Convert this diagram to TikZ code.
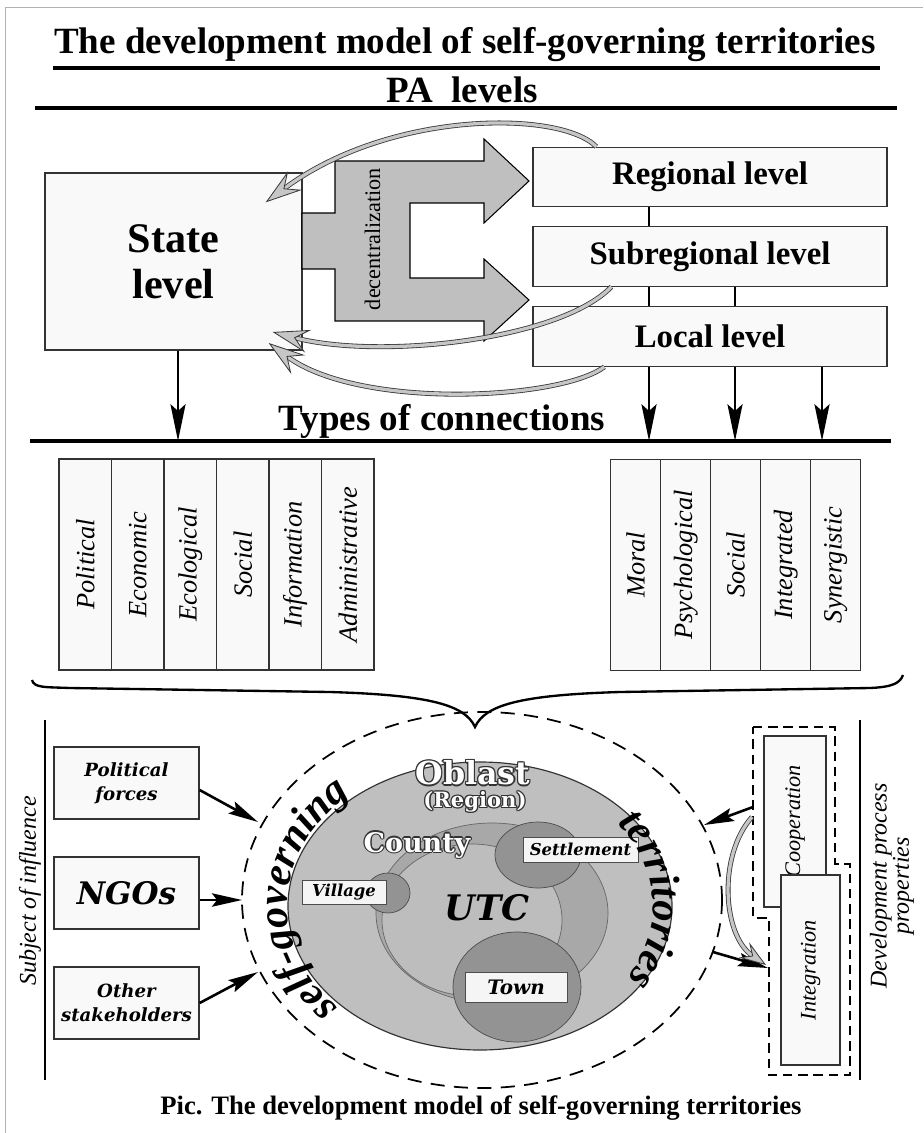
\documentclass[tikz,border=0pt]{standalone}
\usepackage{fontspec}
\setmainfont{Liberation Serif}
\newfontfamily\dejavu{DejaVu Serif}
\usetikzlibrary{arrows.meta, positioning, calc, decorations.text}

\newcommand\titlefont{\fontsize{31.6pt}{36pt}\selectfont\bfseries}
\newcommand\lvlfont{\fontsize{28pt}{32pt}\selectfont\bfseries}
\newcommand\statefont{\fontsize{36pt}{39pt}\selectfont\bfseries}
\newcommand\decfont{\fontsize{19pt}{22pt}\selectfont}
\newcommand\colfont{\fontsize{22.5pt}{26pt}\selectfont\itshape}
\newcommand\sidefont{\fontsize{20.5pt}{17.5pt}\selectfont\itshape}
\newcommand\propfont{\fontsize{19pt}{22pt}\selectfont\itshape}
\newcommand\inflfont{\dejavu\fontsize{15.5pt}{20.5pt}\selectfont\bfseries\itshape}
\newcommand\ngofont{\dejavu\fontsize{26.5pt}{30pt}\selectfont\bfseries\itshape}
\newcommand\tagfont{\dejavu\fontsize{14pt}{16pt}\selectfont\bfseries\itshape}
\newcommand\townfont{\dejavu\fontsize{17pt}{20pt}\selectfont\bfseries\itshape}
\newcommand\utcfont{\dejavu\fontsize{30pt}{34pt}\selectfont\bfseries\itshape}
\newcommand\oblfont{\dejavu\fontsize{27pt}{30pt}\selectfont\bfseries}
\newcommand\regfont{\dejavu\fontsize{18pt}{20pt}\selectfont\bfseries}
\newcommand\cntfont{\dejavu\fontsize{23pt}{26pt}\selectfont\bfseries}
\newcommand\arcfont{\fontsize{36pt}{38pt}\selectfont\bfseries\itshape}
\newcommand\capfont{\fontsize{22.7pt}{26pt}\selectfont\bfseries}

% white lettering with a dark rim
\newcommand\halotext[4]{%
  \foreach \hx/\hy in {1/0,-1/0,0/1,0/-1,.7/.7,-.7/.7,.7/-.7,-.7/-.7}
    \node[font=#2, text=black!80, xshift=1.1*\hx pt, yshift=1.1*\hy pt] at #1 {#4};
  \node[font=#2, text=white] (#3) at #1 {#4};}

\begin{document}
\begin{tikzpicture}[x=0.03cm, y=-0.03cm,
    box/.style={draw=black!80, line width=1.1pt, fill=gray!5, inner sep=0pt},
    lvl/.style={box, minimum width=10.62cm, minimum height=1.78cm, font=\lvlfont},
    col/.style={box, rotate=90, minimum width=6.33cm, font=\colfont},
    rule/.style={line width=3pt},
    link/.style={line width=2.4pt},
    down/.style={line width=2.4pt, -{Stealth[length=1.1cm, width=0.45cm, inset=0.2cm]}},
    back/.style={draw=gray!45!black, line width=0.7pt, double=gray!45, double distance=2.8pt,
                 -{Stealth[length=1.1cm, width=0.7cm, inset=0.4cm, fill=gray!45]}},
    infl/.style={line width=2.2pt, -{Stealth[length=0.9cm, width=0.4cm, inset=0.15cm]}},
    spot/.style={draw=black!70, line width=0.6pt, fill=gray!85},
    tag/.style={draw=gray!60!black, line width=0.6pt, fill=gray!8, inner sep=0pt, font=\tagfont},
]
\useasboundingbox (0,0) rectangle (923,1133);
\draw[gray!60, line width=0.8pt] (5,1133) -- (5,7) -- (923,7);

% headings
\node[font=\titlefont] (title) at (465,45) {The development model of self-governing territories};
\draw[rule] (53,68) -- (880,68);
\node[font=\titlefont] (pa) at (462,90) {PA~ levels};
\draw[rule] (35,108) -- (897,108);

% PA levels
\node[box, minimum width=7.71cm, minimum height=5.31cm, align=center, font=\statefont] (state) at (173.5,261.5) {State\\level};
\node[lvl] (reg) at (710,177) {Regional level};
\node[lvl] (sub) at (710,256.5) {Subregional level};
\node[lvl] (loc) at (710,336.5) {Local level};

\draw[fill=gray!50, line width=0.9pt] (302,213) -- (335,213) -- (335,161) -- (484,161) -- (484,139)
  -- (529,181) -- (484,223) -- (484,203) -- (410,203) -- (410,278) -- (484,278) -- (484,259)
  -- (529,300) -- (484,341) -- (484,321) -- (335,321) -- (335,269) -- (302,269) -- cycle;
\node[rotate=90, font=\decfont] (dec) at (372.5,239) {decentralization};

\coordinate (a0) at (178,441);
\coordinate (a1) at (649,441);
\coordinate (a2) at (735,441);
\coordinate (a3) at (822,441);
\draw[link] (reg.south -| a1) -- (sub.north -| a1);
\draw[link] (sub.south -| a1) -- (loc.north -| a1);
\draw[link] (sub.south -| a2) -- (loc.north -| a2);
\draw[down] (state.south -| a0) -- (a0);
\foreach \a in {a1,a2,a3}
  \draw[down] (loc.south -| \a) -- (\a);

% feedback
\draw[back] ($(reg.north west)+(64,0)$) .. controls (560,110) and (390,110) .. ($(state.north east)+(-37,30)$);
\draw[back] ($(sub.south west)+(79,0)$) .. controls (560,340) and (380,360) .. ($(state.east)+(-30,70.5)$);
\draw[back] ($(loc.south west)+(72,0)$) .. controls (560,400) and (360,410) .. ($(state.east)+(-34,81.5)$);

% Types of connections
\node[font=\titlefont] (types) at (442,421) {Types of connections};
\draw[rule] (30,441) -- (891,441);

\foreach \t [count=\i] in {Political,Economic,Ecological,Social,Information,Administrative}
  \node[col, minimum height=1.575cm] (l\i) at ({59+52.5*(\i-0.5)},564.5) {\t};
\foreach \t [count=\i] in {Moral,Psychological,Social,Integrated,Synergistic}
  \node[col, minimum height=1.5cm] (r\i) at ({610.7+50*(\i-0.5)},565) {\t};

\draw[line width=2pt] (32,680) .. controls (34,688) and (45,687) .. (70,688) -- (330,692)
  .. controls (430,695) and (465,705) .. (475,727) .. controls (485,705) and (520,695) .. (620,692)
  -- (870,688) .. controls (893,687) and (900,683) .. (903,675);

% territories
\draw[line width=1.5pt, dash pattern=on 12pt off 8pt] (482,900) ellipse [x radius=240, y radius=188];
\draw[fill=gray!50, draw=black!80, line width=1pt] (480,906) ellipse [x radius=192, y radius=144];
\draw[fill=gray!68, draw=black!60, line width=0.6pt] (492,913) ellipse [x radius=116, y radius=90];
\draw[fill=gray!52, draw=black!60, line width=0.6pt] (472,920) ellipse [x radius=90, y radius=76];
\draw[spot] (388,893) ellipse [x radius=22, y radius=20];
\draw[spot] (538,855) ellipse [x radius=43, y radius=33];
\draw[spot] (517,987) ellipse [x radius=64, y radius=55];

\halotext{(473,773)}{\oblfont}{obl}{Oblast}
\halotext{(475,802)}{\regfont}{rgn}{(Region)}
\halotext{(417,845)}{\cntfont}{cnt}{County}
\node[tag, minimum width=2.52cm, minimum height=0.72cm] (village) at (344,892) {Village};
\node[tag, minimum width=3.45cm, minimum height=0.75cm] (settle) at (580.5,849.5) {Settlement};
\node[tag, minimum width=3.06cm, minimum height=0.9cm, font=\townfont] (town) at (516,987) {Town};
\node[font=\utcfont] (utc) at (487,908) {UTC};

% lettering round the oblast, y pointing up here
\begin{scope}[y=0.03cm]
  \path[decorate, decoration={text along path, text align=center, text={|\arcfont|self-governing}}]
    (480,-906) ++(240:193 and 150) arc[start angle=240, end angle=115, x radius=193, y radius=150];
  \path[decorate, decoration={text along path, text align=center, text={|\arcfont|territories}}]
    (480,-906) ++(55:173 and 136) arc[start angle=55, end angle=-50, x radius=173, y radius=136];
\end{scope}

% Subject of influence
\draw[line width=1.2pt] (45,720) -- (45,1080);
\node[rotate=90, font=\sidefont] (subj) at (30,891) {Subject of influence};
\node[box, minimum width=4.35cm, minimum height=2.16cm, align=center, font=\inflfont] (pol) at (126.5,783) {Political\\forces};
\node[box, minimum width=4.35cm, minimum height=2.16cm, font=\ngofont] (ngo) at (126.5,893) {NGOs};
\node[box, minimum width=4.35cm, minimum height=2.16cm, align=center, font=\inflfont] (oth) at (126.5,1003) {Other\\stakeholders};
\coordinate (e1) at (258,822);
\coordinate (e2) at (242,900);
\coordinate (e3) at (258,972);
\draw[infl] ($(pol.east)+(0,7)$) -- (e1);
\draw[infl] ($(ngo.east)+(0,7)$) -- (e2);
\draw[infl] (oth.east) -- (e3);

% Development process properties
\draw[line width=1.2pt] (860,720) -- (860,1080);
\node[rotate=90, font=\sidefont, align=center] (dev) at (892,886) {Development process\\properties};
\node[box, rotate=90, minimum width=5.13cm, minimum height=1.86cm, font=\propfont] (coop) at (795,821.5) {Cooperation};
\node[box, rotate=90, minimum width=5.7cm, minimum height=1.77cm, font=\propfont] (integ) at (810.5,970) {Integration};
\draw[line width=1.2pt, dash pattern=on 8pt off 5pt] (753,727) -- (835,727) -- (835,864) -- (850,864)
  -- (850,1075) -- (769,1075) -- (769,918) -- (753,918) -- cycle;
\coordinate (d1) at (753,807);
\coordinate (d2) at (768,968);
\coordinate (e4) at (704,825);
\coordinate (e5) at (713,952);
\draw[infl] (d1) -- (e4);
\draw[infl] (e5) -- (d2);
\draw[back, -{Stealth[length=0.8cm, width=0.55cm, inset=0.3cm, fill=gray!45]}] (d1) ++(-1,10) .. controls (718,855) and (722,935) .. ($(d2)+(-2,-3)$);

\node[font=\capfont] (cap) at (481,1108) {Pic. The development model of self-governing territories};
\end{tikzpicture}
\end{document}
